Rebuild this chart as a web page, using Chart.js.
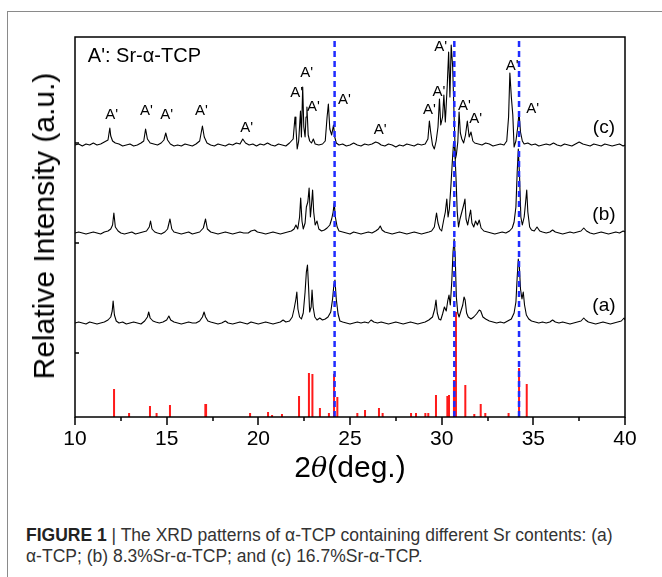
<!DOCTYPE html>
<html><head><meta charset="utf-8">
<script src="https://cdn.jsdelivr.net/npm/chart.js@4"></script>
<style>
html,body{margin:0;padding:0;background:#fff;}
#wrap{position:relative;width:662px;height:577px;overflow:hidden;font-family:"Liberation Sans",Arial,sans-serif;background:#fff;}
#frame{position:absolute;left:7px;top:11px;width:700px;height:620px;border-left:1.5px solid #8a8a8a;border-top:1.5px solid #8a8a8a;}
#c{position:absolute;left:0;top:0;}
#ytitle{position:absolute;left:44px;top:226px;transform:translate(-50%,-50%) rotate(-90deg);white-space:nowrap;font-size:30px;color:#000;}
#xtitle{position:absolute;left:350px;top:467px;transform:translate(-50%,-50%);white-space:nowrap;font-size:30px;color:#000;}
#xtitle i{font-family:"DejaVu Serif",serif;font-size:27px;}
#cap{position:absolute;left:26px;top:525px;font-size:17.5px;line-height:21px;color:#333;white-space:nowrap;}
#cap b{color:#222;}
</style></head>
<body>
<div id="wrap">
<div id="frame"></div>
<canvas id="c" width="662" height="480"></canvas>
<div id="ytitle">Relative Intensity (a.u.)</div>
<div id="xtitle">2<i>θ</i>(deg.)</div>
<div id="cap"><b>FIGURE 1</b> | The XRD patterns of α-TCP containing different Sr contents: (a)<br>α-TCP; (b) 8.3%Sr-α-TCP; and (c) 16.7%Sr-α-TCP.</div>
</div>
<script>
// ---- data (2θ in degrees, relative intensity in arbitrary units) ----
const traceC = [[10.0,272],[10.2,273],[10.4,271],[10.6,273],[10.8,272],[11.0,274],[11.2,272],[11.4,273],[11.6,275],[11.8,277],[11.9,289],[11.95,281],[12.05,276],[12.2,274],[12.4,273],[12.6,271],[12.8,272],[13.0,273],[13.2,271],[13.4,272],[13.6,274],[13.75,276],[13.85,288],[13.95,278],[14.1,274],[14.3,273],[14.5,272],[14.7,274],[14.85,277],[14.95,284],[15.05,277],[15.2,273],[15.4,271],[15.6,272],[15.8,271],[16.0,273],[16.2,272],[16.4,271],[16.6,273],[16.8,276],[16.95,291],[17.05,280],[17.2,274],[17.4,272],[17.6,271],[17.8,273],[18.0,272],[18.2,271],[18.4,273],[18.6,272],[18.8,274],[19.0,273],[19.15,278],[19.3,274],[19.5,272],[19.7,273],[19.9,271],[20.1,273],[20.3,272],[20.5,274],[20.7,272],[20.9,271],[21.1,273],[21.3,272],[21.5,271],[21.7,274],[21.9,278],[22.0,300],[22.05,290],[22.12,268],[22.2,276],[22.3,306],[22.35,280],[22.42,330],[22.48,290],[22.55,280],[22.6,300],[22.65,310],[22.72,282],[22.8,276],[22.9,274],[23.0,278],[23.1,273],[23.3,272],[23.5,273],[23.65,276],[23.75,300],[23.82,313],[23.9,288],[24.0,282],[24.1,292],[24.17,280],[24.25,274],[24.4,272],[24.6,273],[24.8,271],[25.0,272],[25.2,274],[25.4,272],[25.6,271],[25.8,273],[26.0,272],[26.2,273],[26.4,275],[26.55,274],[26.7,272],[26.9,271],[27.1,273],[27.3,272],[27.5,270],[27.7,272],[27.9,271],[28.1,273],[28.3,272],[28.5,271],[28.7,273],[28.9,272],[29.1,273],[29.25,278],[29.33,296],[29.4,285],[29.5,272],[29.6,268],[29.7,276],[29.8,290],[29.88,318],[29.95,292],[30.05,300],[30.12,322],[30.2,295],[30.3,330],[30.38,365],[30.45,320],[30.52,372],[30.6,350],[30.68,300],[30.75,258],[30.8,262],[30.88,275],[30.95,305],[31.02,284],[31.1,278],[31.2,274],[31.3,282],[31.4,296],[31.5,280],[31.6,285],[31.7,276],[31.8,274],[32.0,273],[32.2,272],[32.4,274],[32.6,273],[32.8,271],[33.0,272],[33.2,273],[33.4,272],[33.55,276],[33.65,300],[33.72,344],[33.8,320],[33.88,302],[33.95,270],[34.05,276],[34.15,290],[34.22,305],[34.3,285],[34.4,276],[34.5,273],[34.7,274],[34.9,272],[35.1,273],[35.3,271],[35.5,272],[35.7,273],[35.9,272],[36.1,274],[36.3,272],[36.5,271],[36.7,273],[36.9,272],[37.1,271],[37.3,273],[37.5,275],[37.7,273],[37.9,272],[38.1,271],[38.3,273],[38.5,272],[38.7,271],[38.9,273],[39.1,272],[39.3,271],[39.5,272],[39.7,273],[39.9,271],[40.0,272]];

const traceB = [[10.0,184],[10.2,185],[10.4,184],[10.6,183],[10.8,184],[11.0,185],[11.2,184],[11.4,183],[11.6,185],[11.8,186],[11.95,188],[12.05,192],[12.12,204],[12.2,190],[12.35,186],[12.5,184],[12.7,183],[12.9,184],[13.1,185],[13.3,183],[13.5,184],[13.7,185],[13.9,186],[14.05,190],[14.12,196],[14.2,188],[14.35,185],[14.5,184],[14.7,183],[14.9,185],[15.05,188],[15.18,198],[15.28,188],[15.4,185],[15.6,184],[15.8,183],[16.0,184],[16.2,185],[16.4,183],[16.6,184],[16.8,185],[17.0,189],[17.12,198],[17.22,188],[17.4,185],[17.6,184],[17.8,183],[18.0,184],[18.2,185],[18.4,184],[18.6,183],[18.8,184],[19.0,185],[19.2,184],[19.45,184],[19.6,186],[19.8,187],[19.95,185],[20.2,184],[20.4,183],[20.6,184],[20.8,185],[21.0,184],[21.2,183],[21.4,184],[21.6,185],[21.8,186],[21.95,188],[22.05,192],[22.15,188],[22.25,200],[22.31,219],[22.38,196],[22.45,188],[22.55,194],[22.62,210],[22.7,215],[22.77,229],[22.84,200],[22.9,212],[22.96,227],[23.02,205],[23.1,192],[23.2,196],[23.3,188],[23.45,186],[23.6,187],[23.75,189],[23.9,192],[24.0,198],[24.08,205],[24.14,214],[24.2,200],[24.3,190],[24.4,186],[24.6,185],[24.8,184],[25.0,183],[25.2,185],[25.4,184],[25.6,183],[25.8,184],[26.0,185],[26.2,184],[26.4,186],[26.55,188],[26.65,191],[26.75,187],[26.9,185],[27.1,184],[27.3,183],[27.5,184],[27.7,185],[27.9,184],[28.1,183],[28.3,184],[28.5,185],[28.7,184],[28.9,183],[29.1,184],[29.3,185],[29.45,186],[29.6,190],[29.72,204],[29.8,194],[29.9,188],[30.0,186],[30.1,196],[30.2,205],[30.28,218],[30.35,200],[30.42,208],[30.5,230],[30.58,255],[30.65,275],[30.72,266],[30.78,240],[30.85,205],[30.92,190],[31.0,198],[31.1,205],[31.2,212],[31.27,218],[31.33,198],[31.42,192],[31.5,200],[31.58,207],[31.65,194],[31.75,190],[31.85,196],[31.95,192],[32.05,197],[32.15,189],[32.3,186],[32.5,185],[32.7,184],[32.9,183],[33.1,184],[33.3,185],[33.5,184],[33.7,186],[33.85,189],[33.95,195],[34.05,210],[34.12,245],[34.18,268],[34.25,240],[34.32,200],[34.4,192],[34.5,200],[34.58,215],[34.64,227],[34.7,205],[34.8,190],[34.9,187],[35.05,186],[35.2,190],[35.35,186],[35.5,185],[35.7,184],[35.9,185],[36.05,187],[36.2,185],[36.4,184],[36.6,183],[36.8,184],[37.0,185],[37.2,184],[37.4,185],[37.6,186],[37.75,189],[37.9,186],[38.1,184],[38.3,183],[38.5,184],[38.7,185],[38.9,184],[39.1,183],[39.3,184],[39.5,185],[39.7,184],[39.9,186],[40.0,185]];

const traceA = [[10.0,94],[10.2,95],[10.4,94],[10.6,93],[10.8,95],[11.0,94],[11.2,93],[11.4,94],[11.6,95],[11.8,97],[11.95,100],[12.03,106],[12.08,116],[12.15,102],[12.25,96],[12.4,94],[12.6,95],[12.8,93],[13.0,94],[13.2,95],[13.4,94],[13.6,93],[13.8,96],[13.95,100],[14.02,105],[14.1,99],[14.25,96],[14.4,95],[14.6,94],[14.8,95],[15.0,97],[15.12,101],[15.22,97],[15.4,95],[15.6,94],[15.8,93],[16.0,94],[16.2,95],[16.4,94],[16.6,94],[16.8,96],[16.95,100],[17.04,105],[17.12,100],[17.25,96],[17.4,95],[17.6,94],[17.8,93],[18.0,94],[18.2,96],[18.35,94],[18.6,93],[18.8,94],[19.0,95],[19.2,94],[19.4,93],[19.6,95],[19.8,94],[20.0,93],[20.2,94],[20.4,95],[20.6,94],[20.8,93],[21.0,94],[21.2,95],[21.35,97],[21.5,95],[21.7,96],[21.85,100],[21.95,108],[22.05,118],[22.1,125],[22.16,108],[22.25,100],[22.35,98],[22.45,104],[22.55,125],[22.62,145],[22.68,152],[22.74,130],[22.8,105],[22.88,110],[22.93,127],[22.99,110],[23.08,100],[23.2,97],[23.35,99],[23.5,97],[23.65,98],[23.8,100],[23.95,105],[24.05,118],[24.12,132],[24.18,137],[24.25,118],[24.35,103],[24.45,96],[24.6,95],[24.8,94],[25.0,93],[25.2,94],[25.4,95],[25.6,94],[25.8,95],[26.0,94],[26.15,97],[26.3,95],[26.5,94],[26.7,95],[26.9,94],[27.1,93],[27.3,94],[27.5,95],[27.7,94],[27.9,93],[28.1,94],[28.3,95],[28.5,94],[28.7,93],[28.9,94],[29.1,95],[29.3,97],[29.5,100],[29.62,108],[29.69,117],[29.76,104],[29.85,98],[29.95,97],[30.05,103],[30.15,110],[30.25,106],[30.33,116],[30.4,122],[30.47,112],[30.55,135],[30.62,165],[30.68,178],[30.74,160],[30.8,120],[30.88,104],[30.95,100],[31.05,106],[31.15,112],[31.22,120],[31.28,117],[31.36,104],[31.45,100],[31.6,98],[31.75,100],[31.9,103],[32.05,107],[32.13,106],[32.25,100],[32.4,98],[32.6,96],[32.8,95],[33.0,94],[33.2,95],[33.4,94],[33.6,96],[33.8,98],[33.95,104],[34.05,115],[34.12,140],[34.18,158],[34.24,150],[34.3,128],[34.38,118],[34.45,125],[34.52,112],[34.62,102],[34.75,98],[34.9,96],[35.1,95],[35.3,94],[35.5,95],[35.7,94],[35.9,95],[36.05,97],[36.2,95],[36.4,94],[36.6,95],[36.8,94],[37.0,93],[37.2,94],[37.4,95],[37.6,96],[37.75,99],[37.85,97],[38.0,95],[38.2,94],[38.4,93],[38.6,94],[38.8,95],[39.0,94],[39.2,93],[39.4,94],[39.6,95],[39.8,96],[39.95,99],[40.0,97]];

// reference pattern sticks: [2θ, intensity]
const refSticks = [[12.13,28],[12.95,4],[14.09,11],[14.45,4],[15.18,12],[17.11,13],[17.15,13],[19.55,4],[20.53,5],[20.75,2],[21.29,3],[22.22,21],[22.76,44],[22.95,43],[23.36,9],[23.85,4],[24.13,43],[24.31,20],[25.4,4],[25.82,7],[26.58,9],[26.78,4],[28.33,4],[28.6,4],[29.11,4],[29.27,4],[29.69,22],[30.31,21],[30.4,22],[30.67,37],[30.78,105],[31.29,32],[31.78,3],[32.13,13],[32.38,4],[33.65,4],[34.22,49],[34.64,33]];

// dashed guide lines (2θ)
const guideLines = [24.16, 30.69, 34.22];

// peak markers: [2θ, intensity, text]
const peakLabels = [[12.0,302,"A'"],[13.9,306,"A'"],[15.0,302,"A'"],[16.9,306,"A'"],[19.37,289,"A'"],[22.09,324,"A'"],[22.64,344,"A'"],[23.0,310,"A'"],[24.69,317,"A'"],[26.64,287,"A'"],[29.33,307,"A'"],[29.85,325,"A'"],[29.95,370,"A'"],[31.24,311,"A'"],[31.86,298,"A'"],[33.85,351,"A'"],[34.96,308,"A'"]];
const seriesLabels = [[38.85,289,"(c)"],[38.85,202,"(b)"],[38.85,111,"(a)"]];
const keyText = [10.7,361,"A': Sr-α-TCP"];

const xTickMarks = [10,12.5,15,17.5,20,22.5,25,27.5,30,32.5,35,37.5,40];
const yTickMarks = [64,174,274];

// ---- build ----
const pts = arr => arr.map(([x,y]) => ({x, y}));
const stickData = refSticks.flatMap(([p,h]) => [{x:p,y:0},{x:p,y:h},{x:p,y:null}]);
const guideSets = guideLines.map(g => ({
  data:[{x:g,y:0},{x:g,y:380}], borderColor:'#1f2bff', borderWidth:2.5, borderDash:[6,4], pointRadius:0
}));

const deco = {
  id:'deco',
  afterDatasetsDraw(chart){
    const {ctx, chartArea:a, scales:{x,y}} = chart;
    ctx.save();
    ctx.strokeStyle = '#000'; ctx.lineWidth = 1.5;
    ctx.strokeRect(a.left, a.top, a.right-a.left, a.bottom-a.top);
    ctx.beginPath();
    xTickMarks.forEach(v => {
      const px = Math.round(x.getPixelForValue(v));
      const len = (v % 5 === 0) ? 8 : 4;
      ctx.moveTo(px, a.bottom); ctx.lineTo(px, a.bottom + len);
    });
    yTickMarks.forEach(v => {
      const py = Math.round(y.getPixelForValue(v));
      ctx.moveTo(a.left, py); ctx.lineTo(a.left + 4, py);
    });
    ctx.stroke();
    ctx.fillStyle = '#000';
    ctx.textAlign = 'center'; ctx.textBaseline = 'middle';
    ctx.font = '15px "Liberation Sans", Arial, sans-serif';
    peakLabels.forEach(([vx,vy,t]) => ctx.fillText(t, x.getPixelForValue(vx), y.getPixelForValue(vy)));
    ctx.font = '19px "Liberation Sans", Arial, sans-serif';
    seriesLabels.forEach(([vx,vy,t]) => ctx.fillText(t, x.getPixelForValue(vx), y.getPixelForValue(vy)));
    ctx.textAlign = 'left';
    ctx.font = '20px "Liberation Sans", Arial, sans-serif';
    ctx.fillText(keyText[2], x.getPixelForValue(keyText[0]), y.getPixelForValue(keyText[1]));
    ctx.restore();
  }
};

new Chart(document.getElementById('c'), {
  type:'line',
  data:{ datasets:[
    ...guideSets,
    {data:pts(traceC), borderColor:'#000', borderWidth:1.1, pointRadius:0},
    {data:pts(traceB), borderColor:'#000', borderWidth:1.1, pointRadius:0},
    {data:pts(traceA), borderColor:'#000', borderWidth:1.1, pointRadius:0},
    {data:stickData, borderColor:'#ff1a1a', borderWidth:2, pointRadius:0, spanGaps:false}
  ]},
  options:{
    responsive:false, animation:false,
    layout:{padding:{left:0, top:37, right:37, bottom:0}},
    plugins:{legend:{display:false}, tooltip:{enabled:false}},
    elements:{line:{tension:0, borderJoinStyle:'round'}},
    scales:{
      x:{type:'linear', min:10, max:40,
         ticks:{stepSize:5, padding:10, color:'#000', font:{size:21, family:'"Liberation Sans", Arial, sans-serif'}},
         grid:{drawOnChartArea:false, drawTicks:false}, border:{display:false},
         afterFit(s){ s.height = 63; }},
      y:{type:'linear', min:0, max:380,
         ticks:{display:false}, grid:{display:false}, border:{display:false},
         afterFit(s){ s.width = 75; }}
    }
  },
  plugins:[deco]
});
</script>
</body></html>
